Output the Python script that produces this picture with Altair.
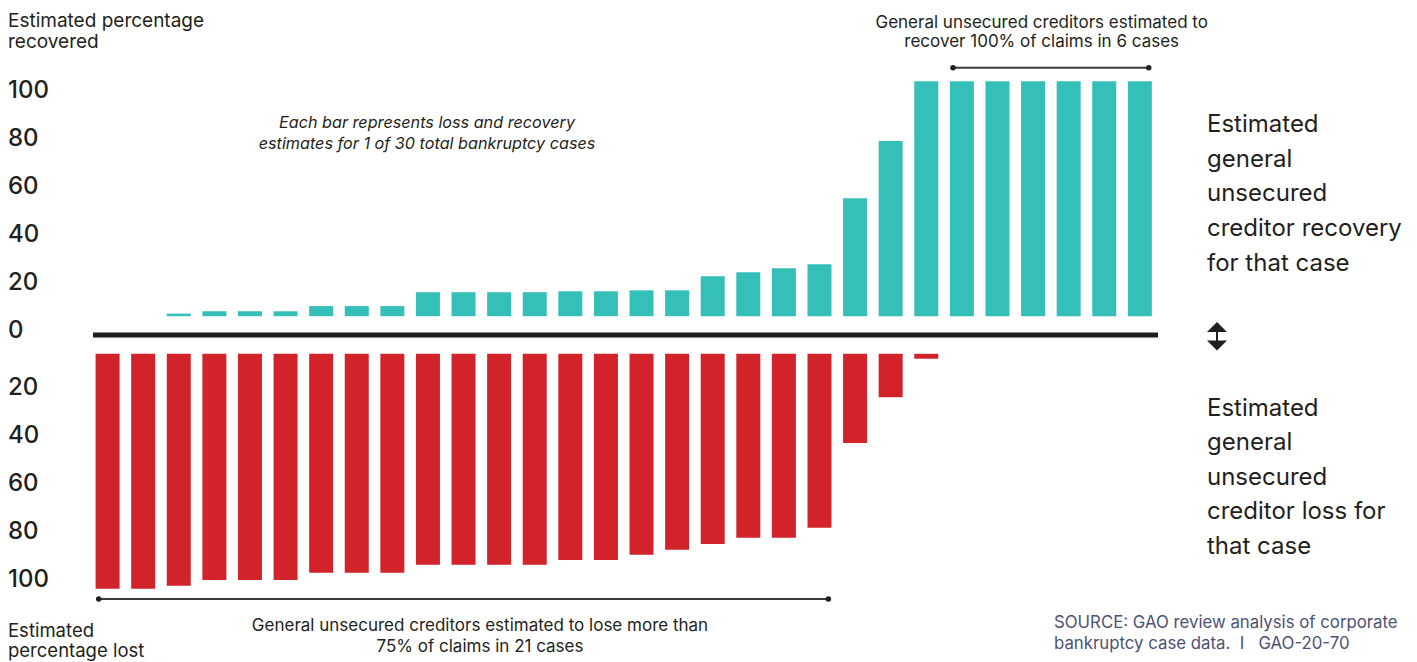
import altair as alt
import pandas as pd

# ---- data ----
cases = list(range(1, 31))
recovery = [0, 0, 1.1, 2.1, 2.1, 2.1, 4.3, 4.3, 4.3, 10.2, 10.2, 10.2, 10.2, 10.6, 10.6,
            11.0, 11.0, 17.0, 18.7, 20.4, 22.1, 50.2, 74.5, 100, 100, 100, 100, 100, 100, 100]
loss = [100, 100, 98.7, 96.2, 96.2, 96.2, 93.2, 93.2, 93.2, 89.8, 89.8, 89.8, 89.8, 87.7, 87.7,
        85.5, 83.4, 80.9, 78.3, 78.3, 74.0, 38.0, 18.5, 2.1, 0, 0, 0, 0, 0, 0]
ticks_up = [0, 20, 40, 60, 80, 100]
ticks_down = [20, 40, 60, 80, 100]
bracket_top = {"first": [25], "last": [30]}
bracket_bottom = {"first": [1], "last": [21]}

TEAL = "#35BFB9"
RED = "#D2232B"
INK = "#231F20"
FONT = "Inter"
NB = "\u00a0"

W, H = 1065, 550
df = pd.DataFrame({"case": cases, "recovery": recovery, "loss": loss})

xs = alt.Scale(domain=[0.59, 30.51], nice=False, zero=False, padding=0)
ys = alt.Scale(domain=[-117, 117], nice=False, zero=False, padding=0)

rec_bars = alt.Chart(df).transform_filter("datum.recovery > 0").transform_calculate(
    lo="8", hi="8 + datum.recovery"
).mark_bar(width=24, color=TEAL).encode(
    x=alt.X("case:Q", scale=xs, axis=None),
    y=alt.Y("lo:Q", scale=ys, axis=None),
    y2="hi:Q",
)

loss_bars = alt.Chart(df).transform_filter("datum.loss > 0").transform_calculate(
    lo="-8", hi="-8 - datum.loss"
).mark_bar(width=24, color=RED).encode(
    x=alt.X("case:Q", scale=xs, axis=None),
    y=alt.Y("lo:Q", scale=ys, axis=None),
    y2="hi:Q",
)

zero_line = alt.Chart(pd.DataFrame({"v": [0]})).mark_rule(color=INK, strokeWidth=5).encode(
    x=alt.value(0), x2=alt.value(W), y=alt.Y("v:Q", scale=ys, axis=None)
)

lab_up = alt.Chart(pd.DataFrame({"t": ticks_up})).transform_calculate(
    pos="datum.t * 1.0213 + 1.7"
).mark_text(align="left", baseline="middle", font=FONT, fontSize=24, fontWeight=500, color=INK).encode(
    x=alt.value(-85), y=alt.Y("pos:Q", scale=ys, axis=None), text=alt.Text("t:Q", format="d")
)
lab_down = alt.Chart(pd.DataFrame({"t": ticks_down})).transform_calculate(
    pos="-(datum.t * 1.0213 + 2.13)"
).mark_text(align="left", baseline="middle", font=FONT, fontSize=24, fontWeight=500, color=INK).encode(
    x=alt.value(-85), y=alt.Y("pos:Q", scale=ys, axis=None), text=alt.Text("t:Q", format="d")
)


def bracket(d, ypix):
    src = alt.Chart(pd.DataFrame(d)).transform_calculate(
        x1="datum.first - 0.25", x2="datum.last + 0.25"
    )
    line = src.mark_rule(color="#3a3a3a", strokeWidth=2).encode(
        x=alt.X("x1:Q", scale=xs, axis=None), x2="x2:Q", y=alt.value(ypix)
    )
    dots = src.transform_fold(["x1", "x2"], as_=["k", "xv"]).mark_point(
        filled=True, size=30, color=INK, opacity=1
    ).encode(x=alt.X("xv:Q", scale=xs, axis=None), y=alt.value(ypix))
    return line + dots


one = pd.DataFrame({"d": [0]})


def note(lines, x, y, size, align="left", style="normal", color=INK, lh=20, weight=400):
    return alt.Chart(one).mark_text(
        text=lines, align=align, baseline="alphabetic", font=FONT, fontSize=size,
        fontStyle=style, color=color, lineHeight=lh, fontWeight=weight
    ).encode(x=alt.value(x), y=alt.value(y))


notes = [
    note(["Estimated percentage", "recovered"], -85, -33, 19, lh=20.5),
    note(["Estimated", "percentage lost"], -85, 577, 18.5, lh=20),
    note(["General unsecured creditors estimated to", "recover 100% of claims in 6 cases"],
         948.7, -32.3, 17, align="center", lh=19.6),
    note(["Each bar represents loss and recovery", "estimates for 1 of 30 total bankruptcy cases"],
         334, 68.3, 16.2, align="center", style="italic", lh=21),
    note(["General unsecured creditors estimated to lose more than", "75% of claims in 21 cases"],
         387, 571, 17, align="center", lh=20.5),
    note(["SOURCE: GAO review analysis of corporate",
          "bankruptcy case data." + NB * 2 + "I" + NB * 3 + "GAO-20-70"],
         961, 568.3, 16.8, color="#4D5175", lh=21),
    note(["Estimated", "general", "unsecured", "creditor recovery", "for that case"],
         1114, 72.3, 24, lh=34.6),
    note(["Estimated", "general", "unsecured", "creditor loss for", "that case"],
         1114, 355.7, 24, lh=34.6),
]

arrow_up = alt.Chart(one).mark_point(
    shape="M-1,0.5L1,0.5L0,-0.5Z", filled=True, size=400, color=INK, opacity=1
).encode(x=alt.value(1124), y=alt.value(267))
arrow_down = alt.Chart(one).mark_point(
    shape="M-1,-0.5L1,-0.5L0,0.5Z", filled=True, size=400, color=INK, opacity=1
).encode(x=alt.value(1124), y=alt.value(285.5))
arrow_shaft = alt.Chart(one).mark_rule(color=INK, strokeWidth=2).encode(
    x=alt.value(1124), y=alt.value(270), y2=alt.value(283)
)

chart = alt.layer(
    rec_bars, loss_bars, zero_line, lab_up, lab_down,
    bracket(bracket_top, 7.7), bracket(bracket_bottom, 539),
    *notes, arrow_up, arrow_down, arrow_shaft,
).properties(
    width=W, height=H, autosize="none",
    padding={"left": 93, "top": 60, "right": 1417 - 93 - W, "bottom": 662 - 60 - H},
    background="white",
).configure_view(stroke=None)

chart.save("out.html", embed_options={"renderer": "svg", "actions": False})
